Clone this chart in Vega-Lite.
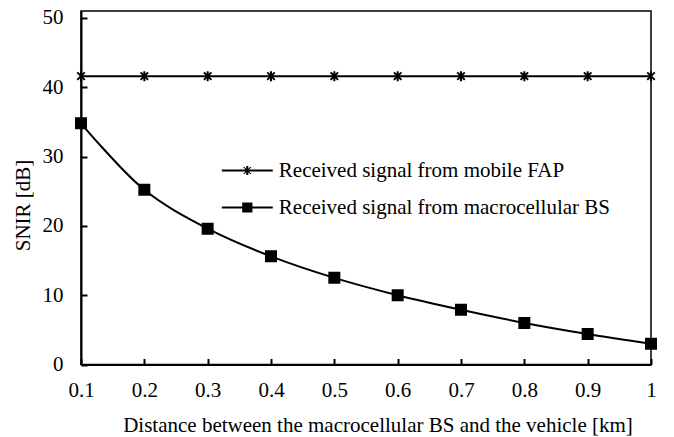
{
  "$schema": "https://vega.github.io/schema/vega-lite/v6.json",
  "autosize": "none",
  "width": 570,
  "height": 353.5,
  "padding": {"left": 81, "top": 11, "right": 23, "bottom": 72.5},
  "background": "white",
  "config": {
    "font": "Times New Roman, Liberation Serif, serif",
    "view": {"stroke": "black", "strokeWidth": 1.5},
    "axis": {"grid": false, "domainColor": "black", "domainWidth": 2, "tickColor": "black", "tickWidth": 2, "labelColor": "black", "titleColor": "black", "labelFont": "Times New Roman, Liberation Serif, serif", "titleFont": "Times New Roman, Liberation Serif, serif", "labelFontSize": 21, "titleFontSize": 21, "titleFontWeight": "normal"},
    "legend": {"labelFont": "Times New Roman, Liberation Serif, serif", "labelFontSize": 21, "labelColor": "black"}
  },
  "data": {
    "values": [
      {"d": 0.1, "snir": 41.6, "series": "Received signal from mobile FAP"},
      {"d": 0.2, "snir": 41.6, "series": "Received signal from mobile FAP"},
      {"d": 0.3, "snir": 41.6, "series": "Received signal from mobile FAP"},
      {"d": 0.4, "snir": 41.6, "series": "Received signal from mobile FAP"},
      {"d": 0.5, "snir": 41.6, "series": "Received signal from mobile FAP"},
      {"d": 0.6, "snir": 41.6, "series": "Received signal from mobile FAP"},
      {"d": 0.7, "snir": 41.6, "series": "Received signal from mobile FAP"},
      {"d": 0.8, "snir": 41.6, "series": "Received signal from mobile FAP"},
      {"d": 0.9, "snir": 41.6, "series": "Received signal from mobile FAP"},
      {"d": 1.0, "snir": 41.6, "series": "Received signal from mobile FAP"},
      {"d": 0.1, "snir": 34.8, "series": "Received signal from macrocellular BS"},
      {"d": 0.2, "snir": 25.2, "series": "Received signal from macrocellular BS"},
      {"d": 0.3, "snir": 19.6, "series": "Received signal from macrocellular BS"},
      {"d": 0.4, "snir": 15.6, "series": "Received signal from macrocellular BS"},
      {"d": 0.5, "snir": 12.5, "series": "Received signal from macrocellular BS"},
      {"d": 0.6, "snir": 10.0, "series": "Received signal from macrocellular BS"},
      {"d": 0.7, "snir": 7.9, "series": "Received signal from macrocellular BS"},
      {"d": 0.8, "snir": 6.0, "series": "Received signal from macrocellular BS"},
      {"d": 0.9, "snir": 4.4, "series": "Received signal from macrocellular BS"},
      {"d": 1.0, "snir": 3.0, "series": "Received signal from macrocellular BS"}
    ]
  },
  "encoding": {
    "x": {"field": "d", "type": "quantitative", "scale": {"domain": [0.1, 1], "nice": false, "zero": false},
      "axis": {"values": [0.1, 0.2, 0.3, 0.4, 0.5, 0.6, 0.7, 0.8, 0.9, 1], "format": "~g", "tickSize": -6, "labelPadding": 21, "labelFlush": false,
        "title": "Distance between the macrocellular BS and the vehicle [km]", "titleX": 296.5, "titleY": 61, "titleBaseline": "middle", "titleAlign": "center"}},
    "y": {"field": "snir", "type": "quantitative", "scale": {"domain": [0, 51], "nice": false},
      "axis": {"values": [0, 10, 20, 30, 40, 50], "tickSize": -6, "labelPadding": 24,
        "title": "SNIR [dB]", "titleX": -57.5, "titleY": 194, "titleBaseline": "middle", "titleAlign": "center"}}
  },
  "layer": [
    {
      "mark": {"type": "line", "color": "black", "strokeWidth": 2, "interpolate": "catmull-rom"},
      "encoding": {"detail": {"field": "series"}}
    },
    {
      "mark": {"type": "point", "filled": true, "fill": "black", "stroke": "black", "strokeWidth": 2, "opacity": 1},
      "encoding": {
        "shape": {"field": "series", "type": "nominal",
          "scale": {"domain": ["Received signal from mobile FAP", "Received signal from macrocellular BS"],
            "range": ["M-0.75,-0.75L0.75,0.75M-0.75,0.75L0.75,-0.75M0,-1L0,1", "M-1,-1L1,-1L1,1L-1,1Z"]},
          "legend": null},
        "size": {"value": 100}
      }
    },
    {
      "mark": {"type": "point", "filled": true, "fill": "black", "opacity": 0},
      "encoding": {
        "shape": {"field": "series", "type": "nominal",
          "scale": {"domain": ["Received signal from mobile FAP", "Received signal from macrocellular BS"],
            "range": ["M-2.5,-0.1L2.5,-0.1L2.5,0.1L-2.5,0.1ZM-0.1,-0.45L0.1,-0.45L0.1,0.45L-0.1,0.45ZM-0.42,-0.35L-0.28,-0.35L0.42,0.35L0.28,0.35ZM0.28,-0.35L0.42,-0.35L-0.28,0.35L-0.42,0.35Z", "M-2.5,-0.1L2.5,-0.1L2.5,0.1L-2.5,0.1ZM-0.5,-0.5L0.5,-0.5L0.5,0.5L-0.5,0.5Z"]},
          "legend": {"title": null, "orient": "none", "legendX": 155.8, "legendY": 149, "padding": 0, "symbolSize": 416, "symbolOpacity": 1, "symbolFillColor": "black", "symbolStrokeWidth": 0, "labelOffset": 21, "rowPadding": 15, "labelLimit": 500}}
      }
    }
  ],
  "resolve": {"scale": {"shape": "independent"}}
}
